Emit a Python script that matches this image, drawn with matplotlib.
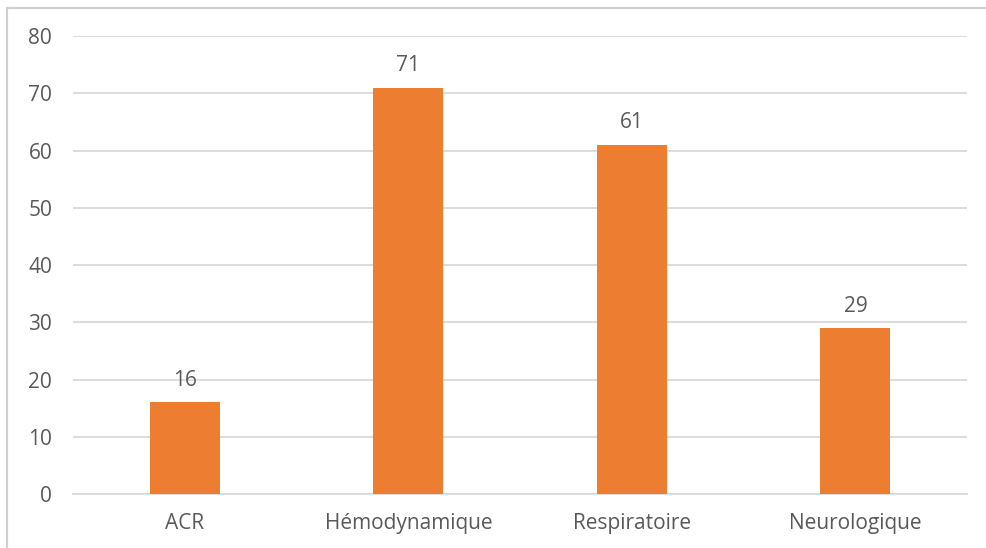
import matplotlib.pyplot as plt
from matplotlib.lines import Line2D

categories = ['ACR', 'Hémodynamique', 'Respiratoire', 'Neurologique']
values = [16, 71, 61, 29]
yticks = [0, 10, 20, 30, 40, 50, 60, 70, 80]

plt.rcParams['font.family'] = ['Open Sans', 'DejaVu Sans']
TEXT = '#595959'
GRID = '#D9D9D9'

fig = plt.figure(figsize=(9.86, 5.48), dpi=100)
ax = fig.add_axes([0.074, 0.0985, 0.907, 0.8355])

x = range(len(categories))
ax.bar(x, values, width=0.313, color='#ED7D31', zorder=3)
for xi, v in zip(x, values):
    ax.text(xi, v + 2.0, str(v), ha='center', va='bottom', fontsize=15, color=TEXT)

ax.set_xlim(-0.5, len(categories) - 0.5)
ax.set_ylim(0, 80)
ax.set_yticks(yticks)
ax.set_xticks(list(x))
ax.set_xticklabels(categories)
ax.yaxis.grid(True, color=GRID, linewidth=1.3, zorder=0)
ax.tick_params(axis='both', length=0, labelsize=15, labelcolor=TEXT)
ax.tick_params(axis='y', pad=15)
ax.tick_params(axis='x', pad=14)
for s in ['top', 'right', 'left']:
    ax.spines[s].set_visible(False)
ax.spines['bottom'].set_color(GRID)
ax.spines['bottom'].set_linewidth(1.3)

# outer frame lines (top and left)
fig.add_artist(Line2D([7 / 986, 1], [1 - 8 / 548, 1 - 8 / 548], color='#D0D0D0', linewidth=1.5))
fig.add_artist(Line2D([7 / 986, 7 / 986], [0, 1 - 8 / 548], color='#D0D0D0', linewidth=1.5))

fig.savefig('out.png', dpi=100)
